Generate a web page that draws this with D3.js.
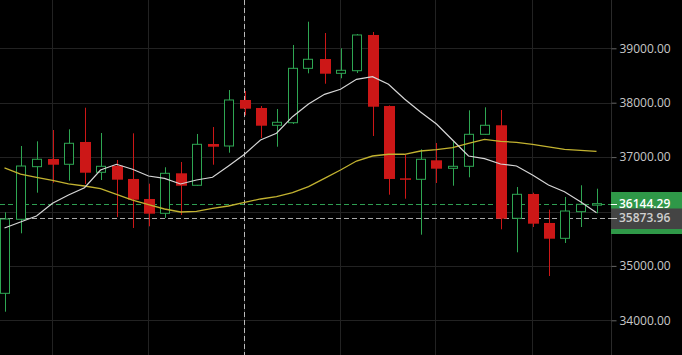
<!DOCTYPE html>
<html>
<head>
<meta charset="utf-8">
<script src="https://cdn.jsdelivr.net/npm/d3@7"></script>
<style>
  html, body { margin: 0; padding: 0; background: #000; overflow: hidden; }
  text { font-family: "Open Sans", sans-serif; }
</style>
</head>
<body>
<div id="chart-area"></div>
<script>
// candles, oldest first
const candleIdx = [0, 1, 2, 3, 4, 5, 6, 7, 8, 9, 10, 11, 12, 13, 14, 15, 16, 17, 18, 19,
  20, 21, 22, 23, 24, 25, 26, 27, 28, 29, 30, 31, 32, 33, 34, 35, 36, 37]
const openVals = [34496, 35857, 36824, 36965, 36868, 37278, 36721, 36842, 36598, 36230,
  35967, 36702, 36482, 37241, 37204, 38050, 37903, 37585, 37632, 38632,
  38803, 38540, 38588, 39245, 37939, 36610, 36592, 36941, 36794, 36831,
  37419, 37585, 35875, 36322, 35789, 35507, 35997, 36138]
const highVals = [35985, 37204, 37290, 37498, 37511, 37908, 37443, 36947, 37437, 36511,
  36813, 36910, 37425, 37553, 38233, 38215, 37939, 37884, 39061, 39489,
  39281, 39000, 39263, 39300, 37950, 37044, 37143, 37259, 37283, 37860,
  37915, 37866, 36450, 36346, 36033, 36267, 36482, 36419]
const lowVals = [34158, 35599, 36346, 36529, 36566, 36506, 36579, 35899, 35697, 35728,
  35881, 35936, 36470, 36860, 37081, 37768, 37351, 37191, 37608, 38540,
  38349, 38449, 38546, 37388, 36309, 36235, 35574, 36524, 36474, 36629,
  37410, 35673, 35250, 35715, 34814, 35421, 35715, 35967]
const closeVals = [35862, 36836, 36960, 36860, 37254, 36713, 36831, 36585, 36217, 35960,
  36702, 36474, 37235, 37191, 38050, 37890, 37577, 37640, 38632, 38798,
  38533, 38596, 39245, 37926, 36598, 36585, 36960, 36787, 36831, 37419,
  37585, 35868, 36316, 35776, 35500, 36009, 36132, 36144.29]

// moving averages
const maFast = [35697, 35807, 35917, 36151, 36303, 36438, 36763, 36868, 36776, 36653,
  36610, 36506, 36579, 36629, 36836, 37052, 37314, 37438, 37743, 37976,
  38154, 38246, 38430, 38478, 38338, 38068, 37829, 37608, 37314, 37020,
  36971, 36873, 36836, 36671, 36487, 36364, 36180, 35978]
const maSlow = [36800, 36689, 36629, 36574, 36506, 36469, 36419, 36316, 36211, 36125,
  36046, 35991, 36004, 36059, 36101, 36169, 36230, 36272, 36346, 36456,
  36610, 36763, 36928, 37020, 37052, 37052, 37112, 37136, 37173, 37254,
  37327, 37290, 37272, 37235, 37186, 37143, 37125, 37107]

const priceTicks = [34000, 35000, 36000, 37000, 38000, 39000]
const gridIdx = [3, 9, 15, 21, 27, 33]
const lastPrice = 36144.29
const refPrice = 35873.96
const crossIdx = 15

const width = 682
const height = 355
const axisX = 611

const svg = d3.select("#chart-area").append("svg")
  .attr("width", width)
  .attr("height", height)
  .style("display", "block")
  .style("background", "#000")

const x = d3.scaleLinear()
  .domain([0, 37])
  .range([4.5, 596.5])

const y = d3.scaleLinear()
  .domain([39000, 34000])
  .range([48.3, 320.3])

const crisp = v => Math.round(v) + 0.5

// grid
const grid = svg.append("g")
grid.selectAll(".hgrid")
  .data(priceTicks)
  .enter().append("line")
  .attr("x1", 0)
  .attr("x2", axisX)
  .attr("y1", d => crisp(y(d)))
  .attr("y2", d => crisp(y(d)))
  .attr("stroke", "#222")
grid.selectAll(".vgrid")
  .data(gridIdx)
  .enter().append("line")
  .attr("x1", d => crisp(x(d)) - 1)
  .attr("x2", d => crisp(x(d)) - 1)
  .attr("y1", 0)
  .attr("y2", height)
  .attr("stroke", "#222")

// price lines
svg.append("line")
  .attr("x1", 0).attr("x2", axisX)
  .attr("y1", crisp(y(refPrice))).attr("y2", crisp(y(refPrice)))
  .attr("stroke", "#aaa")
  .attr("stroke-dasharray", "5,3")
svg.append("line")
  .attr("x1", 0).attr("x2", axisX)
  .attr("y1", crisp(y(lastPrice))).attr("y2", crisp(y(lastPrice)))
  .attr("stroke", "#2e9e52")
  .attr("stroke-dasharray", "5,3")

// crosshair
svg.append("line")
  .attr("x1", crisp(x(crossIdx)) - 1).attr("x2", crisp(x(crossIdx)) - 1)
  .attr("y1", 0).attr("y2", height)
  .attr("stroke", "#bbb")
  .attr("stroke-dasharray", "5,3")

// candles
const candles = candleIdx.map(i => ({
  i: i, o: openVals[i], h: highVals[i], l: lowVals[i], c: closeVals[i]
}))
const green = "#2ea652"
const red = "#cc1717"
const bodyW = 10

const cg = svg.append("g")
cg.selectAll(".wick")
  .data(candles)
  .enter().append("line")
  .attr("x1", d => crisp(x(d.i)))
  .attr("x2", d => crisp(x(d.i)))
  .attr("y1", d => y(d.h))
  .attr("y2", d => y(d.l))
  .attr("stroke", d => d.c >= d.o ? green : red)

cg.selectAll(".body")
  .data(candles)
  .enter().append("rect")
  .attr("x", d => d.c >= d.o ? Math.round(x(d.i)) - 4.5 : Math.round(x(d.i)) - 5)
  .attr("width", d => d.c >= d.o ? bodyW - 1 : bodyW + 1)
  .attr("y", d => y(Math.max(d.o, d.c)))
  .attr("height", d => Math.max(1.5, Math.abs(y(d.o) - y(d.c))))
  .attr("fill", d => d.c >= d.o ? "#000" : red)
  .attr("stroke", d => d.c >= d.o ? green : "none")

// moving averages
const line = d3.line()
  .x((d, i) => x(i))
  .y(d => y(d))

svg.append("path")
  .datum(maSlow)
  .attr("d", line)
  .attr("fill", "none")
  .attr("stroke", "#c2b230")
  .attr("stroke-width", 1.3)

svg.append("path")
  .datum(maFast)
  .attr("d", line)
  .attr("fill", "none")
  .attr("stroke", "#d6d6d6")
  .attr("stroke-width", 1.2)

// right axis
const axis = svg.append("g")
  .attr("transform", `translate(${axisX + 0.5}, 0)`)
  .call(d3.axisRight(y)
    .tickValues(priceTicks)
    .tickSize(5)
    .tickPadding(3)
    .tickFormat(d3.format(".2f")))
axis.select(".domain")
  .attr("d", `M0,0V${height}`)
  .attr("stroke", "#2a2a2a")
axis.selectAll(".tick line").attr("stroke", "#666")
axis.selectAll(".tick text")
  .attr("fill", "#c8c8c8")
  .attr("font-size", "12px")
  .attr("font-family", "'Open Sans', sans-serif")
// 36000 label sits under the price boxes
axis.selectAll(".tick")
  .filter(d => d === 36000)
  .select("text")
  .remove()

// price labels
const labels = svg.append("g")
labels.append("rect")
  .attr("x", axisX).attr("y", 192)
  .attr("width", width - axisX).attr("height", 42)
  .attr("fill", "#2f9848")
labels.append("rect")
  .attr("x", axisX).attr("y", 208.5)
  .attr("width", width - axisX).attr("height", 20.5)
  .attr("fill", "#444")
labels.append("line")
  .attr("x1", axisX).attr("x2", axisX + 6)
  .attr("y1", crisp(y(lastPrice))).attr("y2", crisp(y(lastPrice)))
  .attr("stroke", "#fff")
labels.append("line")
  .attr("x1", axisX).attr("x2", axisX + 6)
  .attr("y1", crisp(y(refPrice))).attr("y2", crisp(y(refPrice)))
  .attr("stroke", "#ccc")
labels.append("text")
  .attr("x", axisX + 8).attr("y", y(lastPrice))
  .attr("dy", "0.34em")
  .attr("font-size", "12px")
  .attr("font-weight", 600)
  .attr("fill", "#fff")
  .text(d3.format(".2f")(lastPrice))
labels.append("text")
  .attr("x", axisX + 8).attr("y", y(refPrice))
  .attr("dy", "0.34em")
  .attr("font-size", "12px")
  .attr("font-weight", 600)
  .attr("fill", "#cfcfcf")
  .text(d3.format(".2f")(refPrice))
</script>
</body>
</html>
